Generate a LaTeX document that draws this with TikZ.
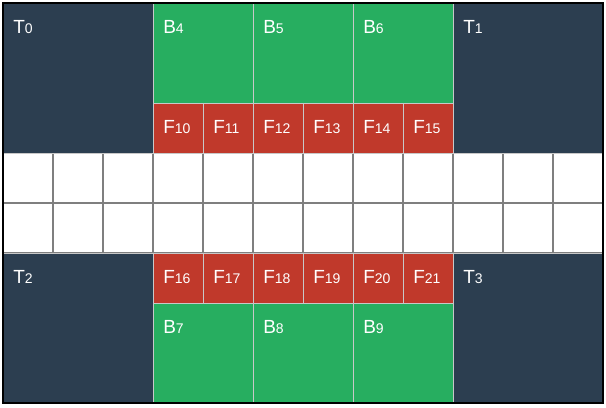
\documentclass[tikz,border=0pt]{standalone}
\usepackage{fontspec}
\setmainfont{Liberation Sans}
\usetikzlibrary{positioning}
\definecolor{towercol}{HTML}{2C3E50}
\definecolor{blockcol}{HTML}{27AE60}
\definecolor{fencecol}{HTML}{C0392B}
\definecolor{lanecol}{HTML}{7F7F7F}
\definecolor{seamcol}{HTML}{C8C8C8}
\tikzset{
	cell/.style = {rectangle, inner sep=0, outer sep=0, anchor=north west},
	freecell/.style = {cell, fill=white, draw=lanecol, line width=1.5pt, minimum width=37.5pt, minimum height=37.5pt},
	tower/.style = {cell, fill=towercol, draw=seamcol, line width=0.75pt, minimum width=112.5pt, minimum height=112.5pt},
	block/.style = {cell, fill=blockcol, draw=seamcol, line width=0.75pt, minimum width=75pt, minimum height=75pt},
	fence/.style = {cell, fill=fencecol, draw=seamcol, line width=0.75pt, minimum width=37.5pt, minimum height=37.5pt},
	celllabel/.style = {anchor=base west, inner sep=0, text=white, font=\fontsize{14.25pt}{16pt}\selectfont}
}
\newcommand{\cellname}[2]{#1{\fontsize{10.5pt}{12pt}\selectfont #2}}

\begin{document}
\begin{tikzpicture}[x=0.75pt, y=-0.75pt]
	\useasboundingbox (0,0) rectangle (606,407);
	
	% free lanes in the middle
	\foreach \r in {0,1}
		\foreach \c in {0,...,11}
			\node[freecell] (w\r-\c) at ({3+50*\c},{153+50*\r}) {};
	
	% corner towers
	\node[tower] (t0) at (3,3) {};
	\node[tower] (t1) at (453,3) {};
	\node[tower] (t2) at (3,253) {};
	\node[tower] (t3) at (453,253) {};
	
	% blocks
	\node[block] (b4) at (t0.north east) {};
	\node[block] (b5) at (b4.north east) {};
	\node[block] (b6) at (b5.north east) {};
	\node[block] (b7) at (153,303) {};
	\node[block] (b8) at (b7.north east) {};
	\node[block] (b9) at (b8.north east) {};
	
	% fences
	\foreach \k in {0,...,5} {
		\pgfmathtruncatemacro{\upper}{10+\k}
		\pgfmathtruncatemacro{\lower}{16+\k}
		\node[fence] (f\upper) at ({153+50*\k},103) {};
		\node[fence] (f\lower) at ({153+50*\k},253) {};
	}
	
	% labels
	\foreach \n/\l/\s in {t0/T/0, t1/T/1, t2/T/2, t3/T/3,
			b4/B/4, b5/B/5, b6/B/6, b7/B/7, b8/B/8, b9/B/9,
			f10/F/10, f11/F/11, f12/F/12, f13/F/13, f14/F/14, f15/F/15,
			f16/F/16, f17/F/17, f18/F/18, f19/F/19, f20/F/20, f21/F/21}
		\node[celllabel] at ([shift={(10,30)}]\n.north west) {\cellname{\l}{\s}};
	
	% outer frame
	\draw[black, line width=1.5pt] (t0.north west) rectangle (t3.south east);
\end{tikzpicture}
\end{document}
